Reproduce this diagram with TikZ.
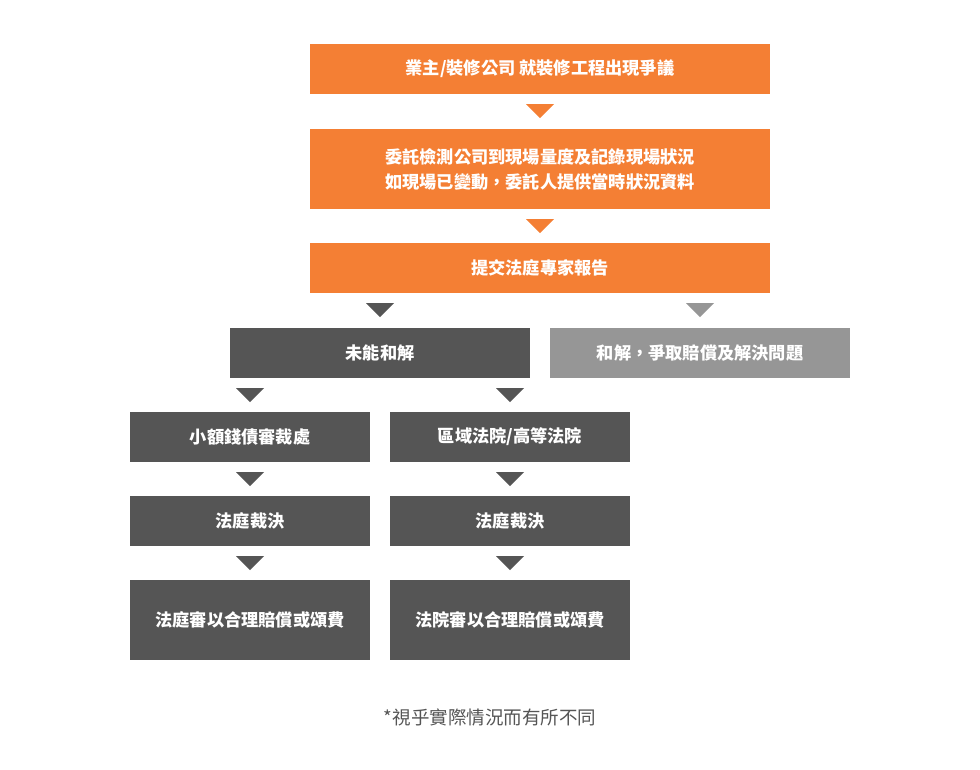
\documentclass[tikz,border=0pt]{standalone}
\usepackage{fontspec}
\setmainfont{Noto Sans CJK TC}
\newfontfamily\cjk{Noto Sans CJK TC}
\definecolor{orangebox}{HTML}{F47F34}
\definecolor{darkbox}{HTML}{555555}
\definecolor{lightbox}{HTML}{969696}
\tikzset{
  box/.style={inner sep=0pt, text=white, font=\cjk\bfseries\fontsize{17.2}{25}\selectfont, align=center},
  obox/.style={box, fill=orangebox},
  dbox/.style={box, fill=darkbox},
  lbox/.style={box, fill=lightbox},
}
\newcommand{\downtri}[3]{% coordinate, color
  \fill[#2] ($(#1)+(-14,#3)$) -- ++(28,0) -- ++(-14,14) -- cycle;}
\usetikzlibrary{calc}
\begin{document}
\begin{tikzpicture}[x=1pt,y=-1pt]
\useasboundingbox (0,0) rectangle (980,770);
% orange
\node[obox, minimum width=460, minimum height=50] (b1) at (540,69) {業主/裝修公司 就裝修工程出現爭議};
\node[obox, minimum width=460, minimum height=80] (b2) at (540,169) {委託檢測公司到現場量度及記錄現場狀況\\如現場已變動，委託人提供當時狀況資料};
\node[obox, minimum width=460, minimum height=50] (b3) at (540,268) {提交法庭專家報告};
% second level
\node[dbox, minimum width=300, minimum height=50] (b4) at (380,353) {未能和解};
\node[lbox, minimum width=300, minimum height=50] (b5) at (700,353) {和解，爭取賠償及解決問題};
% third level
\node[dbox, minimum width=240, minimum height=50] (b6) at (250,437) {小額錢債審裁處};
\node[dbox, minimum width=240, minimum height=50] (b7) at (510,437) {區域法院/高等法院};
\node[dbox, minimum width=240, minimum height=50] (b8) at (250,521) {法庭裁決};
\node[dbox, minimum width=240, minimum height=50] (b9) at (510,521) {法庭裁決};
\node[dbox, minimum width=240, minimum height=80] (b10) at (250,620) {法庭審以合理賠償或頌費};
\node[dbox, minimum width=240, minimum height=80] (b11) at (510,620) {法院審以合理賠償或頌費};
% footnote
\node[text=darkbox, font=\cjk\fontsize{18.5}{22}\selectfont] (note) at (490,717) {*視乎實際情況而有所不同};
% connectors (triangles)
\coordinate (t1) at (b1.south);
\coordinate (t2) at (b2.south);
\coordinate (t3a) at (b4.north |- b3.south);
\coordinate (t3b) at (b5.north |- b3.south);
\coordinate (t4a) at (b6.north |- b4.south);
\coordinate (t4b) at (b7.north |- b4.south);
\coordinate (t5a) at (b6.south);
\coordinate (t5b) at (b7.south);
\coordinate (t6a) at (b8.south);
\coordinate (t6b) at (b9.south);
\downtri{t1}{orangebox}{10}
\downtri{t2}{orangebox}{10}
\downtri{t3a}{darkbox}{10}
\downtri{t3b}{lightbox}{10}
\downtri{t4a}{darkbox}{10}
\downtri{t4b}{darkbox}{10}
\downtri{t5a}{darkbox}{10}
\downtri{t5b}{darkbox}{10}
\downtri{t6a}{darkbox}{10}
\downtri{t6b}{darkbox}{10}
\end{tikzpicture}
\end{document}
